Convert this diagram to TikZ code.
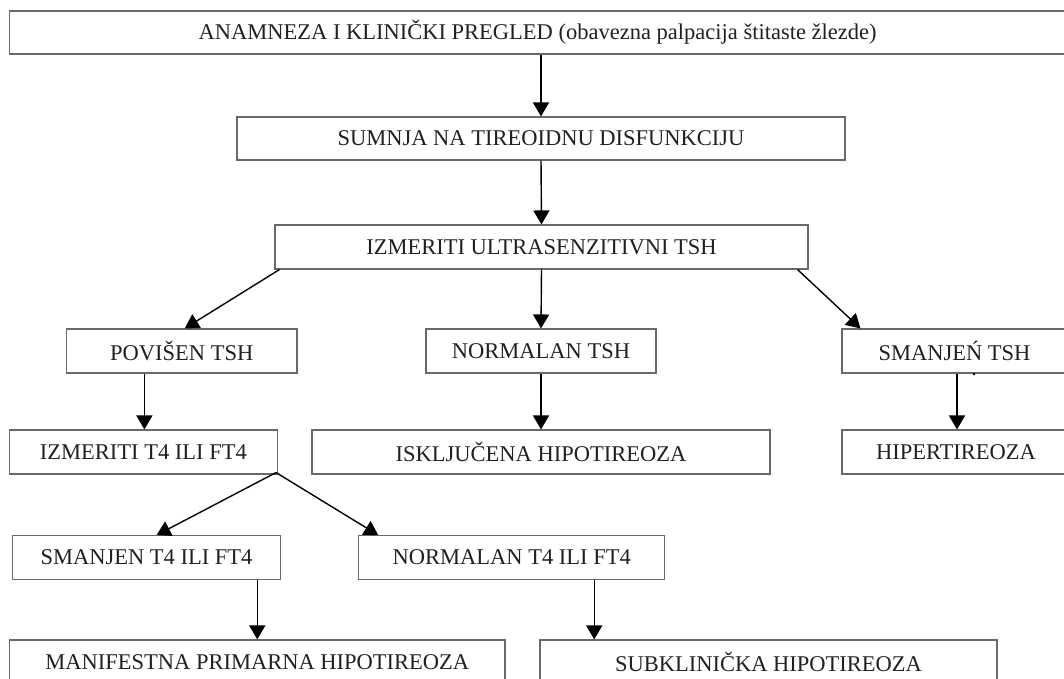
\documentclass[tikz,border=0pt]{standalone}
\usepackage{fontspec}
\setmainfont{Liberation Serif}
\usetikzlibrary{arrows.meta}
\definecolor{boxline}{RGB}{105,105,105}
\definecolor{txt}{RGB}{35,31,32}
\begin{document}
\begin{tikzpicture}[x=1pt,y=-1pt,
  box/.style={draw=boxline, line width=1.1pt, inner sep=0pt, text=txt,
    font=\fontsize{22.5}{26}\selectfont},
  flow/.style={draw=black, line width=1.4pt,
    -{Triangle[length=14pt,width=16pt]}},
]
\useasboundingbox (0,0) rectangle (1064,679);

% top of the chart
\node[box, minimum width=1056.7pt, minimum height=43pt] (top) at (537.6,32.5)
  {ANAMNEZA I KLINIČKI PREGLED (obavezna palpacija štitaste žlezde)};
\node[box, minimum width=608pt, minimum height=43pt] (sumnja) at (541,138.5)
  {SUMNJA NA TIREOIDNU DISFUNKCIJU};
\node[box, minimum width=533pt, minimum height=44pt] (ultra) at (541.5,247)
  {IZMERITI ULTRASENZITIVNI TSH};

% TSH result row
\node[box, minimum width=230.5pt, minimum height=44pt] (povisen) at (181.75,351)
  {POVIŠEN TSH};
\node[box, minimum width=230pt, minimum height=44pt] (normalan) at (541,351)
  {NORMALAN TSH};
\node[box, minimum width=225pt, minimum height=44pt] (smanjen) at (954.5,351)
  {SMANJEŃ TSH};

% consequences
\node[box, minimum width=268.2pt, minimum height=44pt] (izmt4) at (143.4,452)
  {IZMERITI T4 ILI FT4};
\node[box, minimum width=458pt, minimum height=44pt] (iskl) at (541,452)
  {ISKLJUČENA HIPOTIREOZA};
\node[box, minimum width=228pt, minimum height=44pt] (hiper) at (956,452)
  {HIPERTIREOZA};

% T4 result row
\node[box, minimum width=267.6pt, minimum height=43.6pt] (smt4) at (146.5,557.5)
  {SMANJEN T4 ILI FT4};
\node[box, minimum width=305.9pt, minimum height=43.6pt] (nt4) at (511.75,557.5)
  {NORMALAN T4 ILI FT4};

% diagnoses
\node[box, minimum width=495.4pt, minimum height=44pt] (manif) at (257.3,662)
  {MANIFESTNA PRIMARNA HIPOTIREOZA};
\node[box, minimum width=457pt, minimum height=44pt] (subkl) at (768.5,662)
  {SUBKLINIČKA HIPOTIREOZA};

% connectors
\draw[flow] (top.south -| sumnja.north) -- (sumnja.north);
\draw[flow] (sumnja.south) -- (ultra.north);
\draw[flow] ([xshift=5pt]ultra.south west) -- ([xshift=3pt]povisen.north);
\draw[flow] (ultra.south) -- (normalan.north);
\draw[flow] ([xshift=-11pt]ultra.south east) -- ([xshift=19pt]smanjen.north west);
\draw[flow] ([xshift=2.5pt]smanjen.south) -- ([xshift=2.5pt]smanjen.south |- hiper.north);
\fill[black] ([xshift=18.5pt,yshift=0.5pt]smanjen.south) rectangle ++(1.6,1.6);
\draw[flow] ([xshift=1pt]izmt4.north |- povisen.south) -- ([xshift=1pt]izmt4.north);
\draw[flow] (normalan.south) -- (iskl.north);
\draw[flow] ([xshift=-2pt,yshift=2pt]izmt4.south east) -- ([xshift=10pt]smt4.north);
\draw[flow] ([xshift=-2pt,yshift=2pt]izmt4.south east) -- ([xshift=20pt]nt4.north west);
\draw[flow] (smt4.south -| manif.north) -- (manif.north);
\draw[flow] ([xshift=-71pt]nt4.south east) -- ([xshift=-71pt]nt4.south east |- subkl.north);
\end{tikzpicture}
\end{document}
